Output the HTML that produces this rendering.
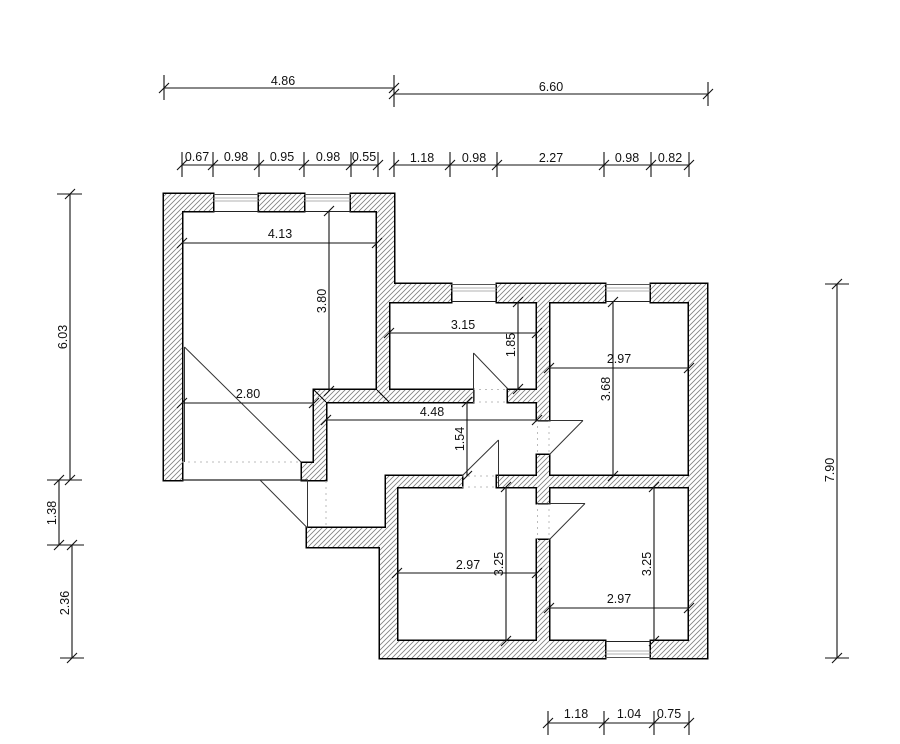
<!DOCTYPE html>
<html>
<head>
<meta charset="utf-8">
<style>
html,body{margin:0;padding:0;background:#fff;}
svg{display:block;}
text{font-family:"Liberation Sans",Arial,sans-serif;font-size:12.5px;fill:#111;}
</style>
</head>
<body>
<svg width="900" height="744" viewBox="0 0 900 744" xmlns="http://www.w3.org/2000/svg">
<defs>
<pattern id="h" patternUnits="userSpaceOnUse" width="5" height="5">
<rect width="5" height="5" fill="#fff"/>
<path d="M-1,1 L1,-1 M0,5 L5,0 M4,6 L6,4" stroke="#808080" stroke-width="0.8"/>
</pattern>
</defs>

<!-- wall outline layer -->
<g fill="#000" stroke="#000" stroke-width="3">
<rect x="164" y="194" width="18" height="286"/>
<rect x="164" y="194" width="49" height="17"/>
<rect x="259" y="194" width="45" height="17"/>
<rect x="351" y="194" width="43" height="17"/>
<rect x="377" y="194" width="17" height="90"/>
<rect x="377" y="284" width="74" height="18"/>
<rect x="497" y="284" width="108" height="18"/>
<rect x="651" y="284" width="56" height="18"/>
<rect x="689" y="284" width="18" height="374"/>
<rect x="377" y="302" width="12" height="100"/>
<rect x="314" y="390" width="159" height="12"/>
<rect x="314" y="390" width="12" height="73"/>
<rect x="302" y="463" width="24" height="17"/>
<rect x="508" y="390" width="41" height="12"/>
<rect x="537" y="302" width="12" height="118"/>
<rect x="537" y="455" width="12" height="48"/>
<rect x="497" y="476" width="210" height="11"/>
<rect x="386" y="476" width="76" height="11"/>
<rect x="386" y="476" width="11" height="71"/>
<rect x="380" y="547" width="17" height="111"/>
<rect x="307" y="528" width="79" height="19"/>
<rect x="537" y="540" width="12" height="101"/>
<rect x="380" y="641" width="225" height="17"/>
<rect x="651" y="641" width="56" height="17"/>
</g>
<!-- hatch fill layer -->
<g fill="url(#h)" stroke="none">
<rect x="164" y="194" width="18" height="286"/>
<rect x="164" y="194" width="49" height="17"/>
<rect x="259" y="194" width="45" height="17"/>
<rect x="351" y="194" width="43" height="17"/>
<rect x="377" y="194" width="17" height="90"/>
<rect x="377" y="284" width="74" height="18"/>
<rect x="497" y="284" width="108" height="18"/>
<rect x="651" y="284" width="56" height="18"/>
<rect x="689" y="284" width="18" height="374"/>
<rect x="377" y="302" width="12" height="100"/>
<rect x="314" y="390" width="159" height="12"/>
<rect x="314" y="390" width="12" height="73"/>
<rect x="302" y="463" width="24" height="17"/>
<rect x="508" y="390" width="41" height="12"/>
<rect x="537" y="302" width="12" height="118"/>
<rect x="537" y="455" width="12" height="48"/>
<rect x="497" y="476" width="210" height="11"/>
<rect x="386" y="476" width="76" height="11"/>
<rect x="386" y="476" width="11" height="71"/>
<rect x="380" y="547" width="17" height="111"/>
<rect x="307" y="528" width="79" height="19"/>
<rect x="537" y="540" width="12" height="101"/>
<rect x="380" y="641" width="225" height="17"/>
<rect x="651" y="641" width="56" height="17"/>
</g>

<!-- miter lines -->
<path d="M314 390 L326 402 M377 390 L389 402" stroke="#000" stroke-width="1" fill="none"/>

<!-- windows -->
<g stroke="#555" stroke-width="1" fill="none">
<path d="M213 194.5 H259 M304 194.5 H351 M451 284.5 H497 M605 284.5 H651 M605 657.5 H651"/>
</g>
<g stroke="#999" stroke-width="0.8" fill="none">
<path d="M213 198 H259 M213 201 H259 M304 198 H351 M304 201 H351"/>
<path d="M451 288 H497 M451 291 H497 M605 288 H651 M605 291 H651"/>
<path d="M605 654 H651 M605 651 H651"/>
</g>
<g stroke="#222" stroke-width="1" fill="none">
<path d="M213 211.5 H259 M304 211.5 H351 M451 301.5 H497 M605 301.5 H651 M605 641.5 H651"/>
</g>

<!-- openings: thresholds (dotted) -->
<g stroke="#bbb" stroke-width="1" stroke-dasharray="2,4" fill="none">
<path d="M182 462 H302"/>
<path d="M326 481 V528"/>
<path d="M473 389.5 H508 M473 402 H508"/>
<path d="M537.5 420 V455 M549 420 V455"/>
<path d="M537.5 503 V540 M549 503 V540"/>
<path d="M462 476 H498 M462 487 H498"/>
</g>
<path d="M182 480 H308" stroke="#222" stroke-width="1.2" fill="none"/>

<!-- door leaves/swings -->
<g stroke="#333" stroke-width="1" fill="none">
<path d="M184.5 347 V462 M184.5 347 L301 462"/>
<path d="M307.5 480 V528 M260 480 L307.5 528"/>
<path d="M473.5 353 V402 M473.5 353 L508 389"/>
<path d="M537 420.5 H583 M583 420.5 L549 455"/>
<path d="M537 503.5 H585 M585 503.5 L549 540"/>
<path d="M498.5 440 V487 M498.5 440 L462 476"/>
</g>

<!-- dimension lines -->
<g stroke="#111" stroke-width="1.1" fill="none">
<!-- top outer -->
<path d="M164 88 H394 M394 94 H708"/>
<path d="M164 75 V100 M394 75 V107 M708 82 V106"/>
<path d="M159 93 L169 83 M389 93 L399 83 M389 99 L399 89 M703 99 L713 89"/>
<!-- top chain 1 -->
<path d="M182 165 H378"/>
<path d="M182 152 V177 M213 152 V177 M259 152 V177 M304 152 V177 M351 152 V177 M378 152 V177"/>
<path d="M177 170 L187 160 M208 170 L218 160 M254 170 L264 160 M299 170 L309 160 M346 170 L356 160 M373 170 L383 160"/>
<!-- top chain 2 -->
<path d="M394 165 H689"/>
<path d="M394 152 V177 M450 152 V177 M497 152 V177 M604 152 V177 M651 152 V177 M689 152 V177"/>
<path d="M389 170 L399 160 M445 170 L455 160 M492 170 L502 160 M599 170 L609 160 M646 170 L656 160 M684 170 L694 160"/>
<!-- bottom chain -->
<path d="M548 723 H689"/>
<path d="M548 711 V735 M604 711 V735 M654 711 V735 M689 711 V735"/>
<path d="M543 728 L553 718 M599 728 L609 718 M649 728 L659 718 M684 728 L694 718"/>
<!-- left -->
<path d="M70 194 V480 M59 480 V545 M72 545 V658"/>
<path d="M57 194 H82 M47 480 H82 M47 545 H84 M60 658 H84"/>
<path d="M65 199 L75 189 M65 485 L75 475 M54 485 L64 475 M54 550 L64 540 M67 550 L77 540 M67 663 L77 653"/>
<!-- right -->
<path d="M837 284 V658 M825 284 H849 M825 658 H849"/>
<path d="M832 289 L842 279 M832 663 L842 653"/>
<!-- interior -->
<path d="M182 243 H377 M177 248 L187 238 M372 248 L382 238"/>
<path d="M329 211 V391 M324 216 L334 206 M324 396 L334 386"/>
<path d="M182 403 H314 M177 408 L187 398 M309 408 L319 398"/>
<path d="M326 420 H537 M321 425 L331 415 M532 425 L542 415"/>
<path d="M467 402 V476 M462 407 L472 397 M462 481 L472 471"/>
<path d="M389 333 H537 M384 338 L394 328 M532 338 L542 328"/>
<path d="M518 302 V389 M513 307 L523 297 M513 394 L523 384"/>
<path d="M549 368 H689 M544 373 L554 363 M684 373 L694 363"/>
<path d="M613 302 V476 M608 307 L618 297 M608 481 L618 471"/>
<path d="M397 573 H537 M392 578 L402 568 M532 578 L542 568"/>
<path d="M506 487 V641 M501 492 L511 482 M501 646 L511 636"/>
<path d="M549 608 H689 M544 613 L554 603 M684 613 L694 603"/>
<path d="M654 487 V641 M649 492 L659 482 M649 646 L659 636"/>
</g>

<!-- labels -->
<g text-anchor="middle">
<text x="283" y="85">4.86</text>
<text x="551" y="91">6.60</text>
<text x="197" y="161">0.67</text>
<text x="236" y="161">0.98</text>
<text x="282" y="161">0.95</text>
<text x="328" y="161">0.98</text>
<text x="364" y="161">0.55</text>
<text x="422" y="162">1.18</text>
<text x="474" y="162">0.98</text>
<text x="551" y="162">2.27</text>
<text x="627" y="162">0.98</text>
<text x="670" y="162">0.82</text>
<text x="576" y="718">1.18</text>
<text x="629" y="718">1.04</text>
<text x="669" y="718">0.75</text>
<text x="280" y="238">4.13</text>
<text x="248" y="398">2.80</text>
<text x="432" y="416">4.48</text>
<text x="463" y="329">3.15</text>
<text x="619" y="363">2.97</text>
<text x="468" y="569">2.97</text>
<text x="619" y="603">2.97</text>
<text transform="translate(67,337) rotate(-90)">6.03</text>
<text transform="translate(56,513) rotate(-90)">1.38</text>
<text transform="translate(69,603) rotate(-90)">2.36</text>
<text transform="translate(834,470) rotate(-90)">7.90</text>
<text transform="translate(326,301) rotate(-90)">3.80</text>
<text transform="translate(515,345) rotate(-90)">1.85</text>
<text transform="translate(610,389) rotate(-90)">3.68</text>
<text transform="translate(464,439) rotate(-90)">1.54</text>
<text transform="translate(503,564) rotate(-90)">3.25</text>
<text transform="translate(651,564) rotate(-90)">3.25</text>
</g>
</svg>
</body>
</html>
